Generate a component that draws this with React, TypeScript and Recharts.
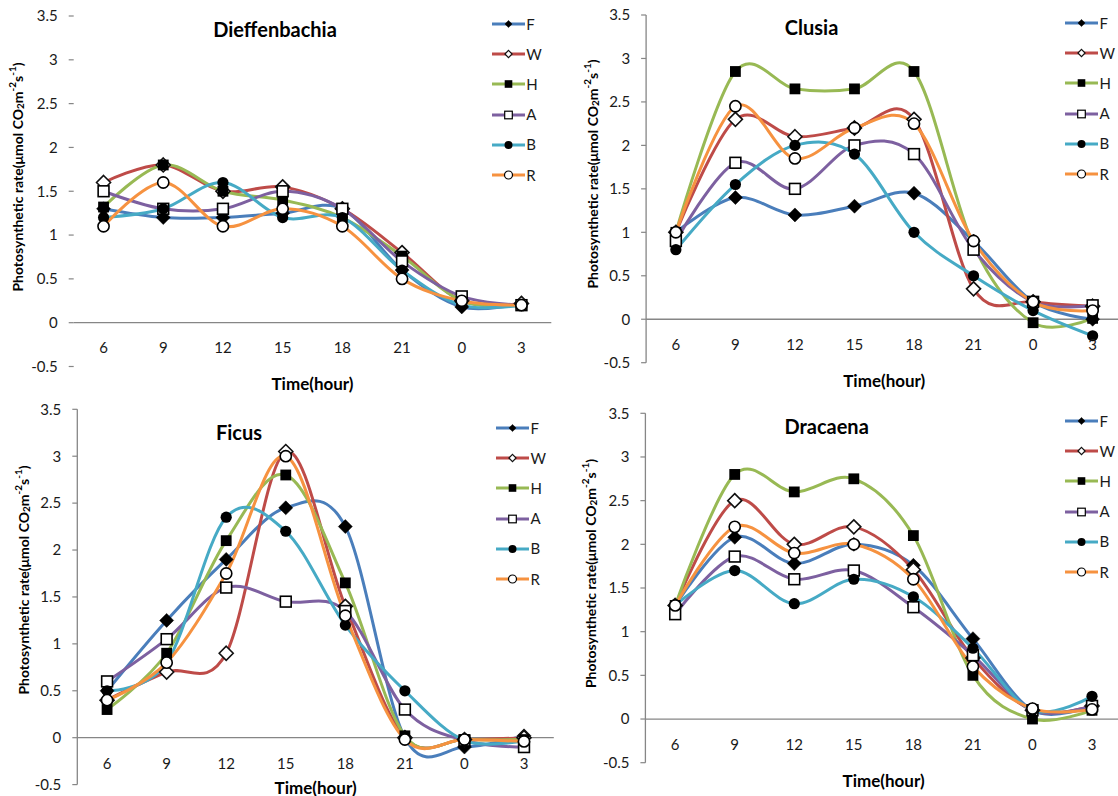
import React from 'react';
import { LineChart, Line, XAxis, YAxis, ReferenceLine, Legend, Label } from 'recharts';

// ---------- data ----------
const hours = ['6', '9', '12', '15', '18', '21', '0', '3'];
const yTicks = [-0.5, 0, 0.5, 1, 1.5, 2, 2.5, 3, 3.5];
const seriesNames = ['F', 'W', 'H', 'A', 'B', 'R'];
const seriesColors = ['#4A7EBB', '#BE4B48', '#98B954', '#7D60A0', '#46AAC5', '#F69240'];
const seriesMarkers = ['diamond', 'diamondOpen', 'square', 'squareOpen', 'circle', 'circleOpen'];

const dieffenbachiaF = [1.3, 1.2, 1.2, 1.25, 1.3, 0.6, 0.18, 0.22];
const dieffenbachiaW = [1.6, 1.8, 1.5, 1.55, 1.3, 0.8, 0.25, 0.22];
const dieffenbachiaH = [1.32, 1.8, 1.5, 1.4, 1.2, 0.76, 0.25, 0.2];
const dieffenbachiaA = [1.5, 1.3, 1.3, 1.5, 1.3, 0.7, 0.3, 0.2];
const dieffenbachiaB = [1.2, 1.3, 1.6, 1.2, 1.2, 0.6, 0.2, 0.2];
const dieffenbachiaR = [1.1, 1.6, 1.1, 1.3, 1.1, 0.5, 0.25, 0.2];

const clusiaF = [1.0, 1.4, 1.2, 1.3, 1.45, 0.9, 0.2, 0.0];
const clusiaW = [1.0, 2.3, 2.1, 2.2, 2.3, 0.35, 0.2, 0.15];
const clusiaH = [1.0, 2.85, 2.65, 2.65, 2.85, 0.85, -0.04, 0.01];
const clusiaA = [0.9, 1.8, 1.5, 2.0, 1.9, 0.8, 0.2, 0.16];
const clusiaB = [0.8, 1.55, 2.0, 1.9, 1.0, 0.5, 0.1, -0.19];
const clusiaR = [1.0, 2.45, 1.85, 2.2, 2.25, 0.9, 0.2, 0.1];

const ficusF = [0.5, 1.25, 1.9, 2.45, 2.25, 0.0, -0.1, 0.02];
const ficusW = [0.4, 0.7, 0.9, 3.05, 1.4, 0.0, -0.02, 0.0];
const ficusH = [0.3, 0.9, 2.1, 2.8, 1.65, 0.02, -0.02, -0.02];
const ficusA = [0.6, 1.05, 1.6, 1.45, 1.35, 0.3, -0.03, -0.1];
const ficusB = [0.5, 0.8, 2.35, 2.2, 1.2, 0.5, -0.03, -0.03];
const ficusR = [0.4, 0.8, 1.75, 3.0, 1.3, -0.02, -0.02, -0.04];

const dracaenaF = [1.3, 2.08, 1.78, 2.0, 1.76, 0.92, 0.1, 0.15];
const dracaenaW = [1.3, 2.5, 2.0, 2.2, 1.71, 0.7, 0.1, 0.15];
const dracaenaH = [1.3, 2.8, 2.6, 2.75, 2.1, 0.5, 0.0, 0.1];
const dracaenaA = [1.2, 1.86, 1.6, 1.7, 1.28, 0.73, 0.1, 0.15];
const dracaenaB = [1.3, 1.7, 1.32, 1.6, 1.4, 0.81, 0.1, 0.26];
const dracaenaR = [1.3, 2.2, 1.9, 2.0, 1.6, 0.6, 0.12, 0.11];

const FONT = 'Lato, "Open Sans", "DejaVu Sans", sans-serif';
const AXIS_GRAY = '#868686';

// ---------- Excel-like smoothed curve (Catmull-Rom bezier) ----------
class SmoothCurve {
  _context: any; _k: number; _line: number; _point: number;
  _x0: number; _x1: number; _x2: number; _y0: number; _y1: number; _y2: number;
  constructor(context: any) { this._context = context; this._k = 1 / 6; }
  areaStart() { this._line = 0; }
  areaEnd() { this._line = NaN; }
  lineStart() {
    this._x0 = this._x1 = this._x2 = NaN;
    this._y0 = this._y1 = this._y2 = NaN;
    this._point = 0;
  }
  lineEnd() {
    switch (this._point) {
      case 2: this._context.lineTo(this._x2, this._y2); break;
      case 3: this._bez(this._x1, this._y1); break;
    }
    if (this._line || (this._line !== 0 && this._point === 1)) this._context.closePath();
    this._line = 1 - this._line;
  }
  _bez(x: number, y: number) {
    this._context.bezierCurveTo(
      this._x1 + this._k * (this._x2 - this._x0),
      this._y1 + this._k * (this._y2 - this._y0),
      this._x2 + this._k * (this._x1 - x),
      this._y2 + this._k * (this._y1 - y),
      this._x2,
      this._y2
    );
  }
  point(x: number, y: number) {
    x = +x; y = +y;
    switch (this._point) {
      case 0: this._point = 1; this._line ? this._context.lineTo(x, y) : this._context.moveTo(x, y); break;
      case 1: this._point = 2; this._x1 = x; this._y1 = y; break;
      case 2: this._point = 3; this._bez(x, y); break;
      default: this._bez(x, y); break;
    }
    this._x0 = this._x1; this._x1 = this._x2; this._x2 = x;
    this._y0 = this._y1; this._y1 = this._y2; this._y2 = y;
  }
}
const smoothCurve: any = (context: any) => new SmoothCurve(context);

// ---------- markers ----------
function markerShape(shape: string, cx: number, cy: number, big: boolean, key?: string) {
  const d = big ? 7 : 3.6;
  const q = big ? 5.4 : 3.8;
  const r = big ? 5.6 : 4;
  const sw = big ? 1.6 : 1.2;
  switch (shape) {
    case 'diamond':
      return <polygon key={key} points={`${cx},${cy - d} ${cx + d},${cy} ${cx},${cy + d} ${cx - d},${cy}`} fill="#000" stroke="#000" strokeWidth={0.5} />;
    case 'diamondOpen':
      return <polygon key={key} points={`${cx},${cy - d} ${cx + d},${cy} ${cx},${cy + d} ${cx - d},${cy}`} fill="#fff" stroke="#111" strokeWidth={sw} />;
    case 'square':
      return <rect key={key} x={cx - q} y={cy - q} width={2 * q} height={2 * q} fill="#000" />;
    case 'squareOpen':
      return <rect key={key} x={cx - q} y={cy - q} width={2 * q} height={2 * q} fill="#fff" stroke="#000" strokeWidth={sw} />;
    case 'circle':
      return <circle key={key} cx={cx} cy={cy} r={r} fill="#000" />;
    default:
      return <circle key={key} cx={cx} cy={cy} r={r} fill="#fff" stroke="#000" strokeWidth={sw} />;
  }
}

const renderDot = (k: number) => (props: any) => {
  const { cx, cy, index } = props;
  if (cx == null || cy == null) return <g key={`d-${k}-${index}`} />;
  return <g key={`d-${k}-${index}`}>{markerShape(seriesMarkers[k], cx, cy, true)}</g>;
};

function LegendBox() {
  return (
    <div style={{ fontFamily: FONT, fontSize: 15, color: '#1a1a1a' }}>
      {seriesNames.map((n, k) => (
        <div key={n} style={{ height: 30.2, display: 'flex', alignItems: 'center' }}>
          <svg width={33} height={12} style={{ display: 'block' }}>
            <line x1={0} y1={6} x2={33} y2={6} stroke={seriesColors[k]} strokeWidth={3} />
            {markerShape(seriesMarkers[k], 16.5, 6, false)}
          </svg>
          <span style={{ marginLeft: 1.5, lineHeight: '15px' }}>{n}</span>
        </div>
      ))}
    </div>
  );
}

// ---------- panels ----------
const panels = [
  {
    title: 'Dieffenbachia',
    series: [dieffenbachiaF, dieffenbachiaW, dieffenbachiaH, dieffenbachiaA, dieffenbachiaB, dieffenbachiaR],
    left: 0, top: 0, width: 558, height: 396,
    plotLeft: 73.7, plotRight: 551.3, plotTop: 16, plotBottom: 366.5,
    yAxisLine: false, xTickShift: 19.8, xLabelDy: 16.5,
    titleX: 275, titleY: 29, yLabelX: 17, yLabelY: 177, legendX: 491.7, legendY: 9,
  },
  {
    title: 'Clusia',
    series: [clusiaF, clusiaW, clusiaH, clusiaA, clusiaB, clusiaR],
    left: 558, top: 0, width: 570, height: 396,
    plotLeft: 88.1, plotRight: 564.4, plotTop: 15, plotBottom: 362.7,
    yAxisLine: true, xTickShift: 18.7, xLabelDy: 17.3,
    titleX: 253.6, titleY: 27, yLabelX: 34, yLabelY: 174, legendX: 507, legendY: 8,
  },
  {
    title: 'Ficus',
    series: [ficusF, ficusW, ficusH, ficusA, ficusB, ficusR],
    left: 0, top: 396, width: 558, height: 400,
    plotLeft: 77.3, plotRight: 553.8, plotTop: 13.3, plotBottom: 388.6,
    yAxisLine: true, xTickShift: 21.3, xLabelDy: 2.4,
    titleX: 239, titleY: 36, yLabelX: 23, yLabelY: 184, legendX: 496, legendY: 17,
  },
  {
    title: 'Dracaena',
    series: [dracaenaF, dracaenaW, dracaenaH, dracaenaA, dracaenaB, dracaenaR],
    left: 558, top: 396, width: 570, height: 400,
    plotLeft: 87.4, plotRight: 563.8, plotTop: 17.3, plotBottom: 366.7,
    yAxisLine: true, xTickShift: 19, xLabelDy: 17.3,
    titleX: 268.6, titleY: 30, yLabelX: 32, yLabelY: 177.5, legendX: 507, legendY: 10,
  },
];

function YLabelText({ x, y }: { x: number; y: number }) {
  return (
    <text
      x={x}
      y={y}
      transform={`rotate(-90, ${x}, ${y})`}
      textAnchor="middle"
      dominantBaseline="central"
      fontFamily={FONT}
      fontWeight="bold"
      fontSize={14}
      fill="#000"
    >
      Photosynthetic rate(μmol CO
      <tspan dy={3} fontSize={10}>2</tspan>
      <tspan dy={-3}>m</tspan>
      <tspan dy={-5} fontSize={10}>-2</tspan>
      <tspan dy={5}>s</tspan>
      <tspan dy={-5} fontSize={10}>-1</tspan>
      <tspan dy={5}>)</tspan>
    </text>
  );
}

function Panel({ p }: { p: any }) {
  const data = hours.map((h, i) => {
    const row: any = { hour: h };
    seriesNames.forEach((n, k) => {
      row[n] = p.series[k][i];
    });
    return row;
  });
  const plotW = p.plotRight - p.plotLeft;
  const pad = plotW / 16;
  return (
    <div style={{ position: 'absolute', left: p.left, top: p.top, width: p.width, height: p.height }}>
      <LineChart
        width={p.width}
        height={p.height}
        data={data}
        margin={{ top: p.plotTop, right: p.width - p.plotRight, bottom: 0, left: 0 }}
      >
        <XAxis
          dataKey="hour"
          padding={{ left: pad, right: pad }}
          interval={0}
          axisLine={false}
          tickLine={false}
          tickSize={0}
          tickMargin={0}
          height={p.height - p.plotBottom}
          tick={(tp: any) => (
            <text
              x={tp.x}
              y={tp.y - p.xTickShift}
              textAnchor="middle"
              dominantBaseline="central"
              fontFamily={FONT}
              fontSize={15}
              fill="#1a1a1a"
            >
              {tp.payload.value}
            </text>
          )}
        >
          <Label
            content={(lp: any) => {
              const vb = lp.viewBox || {};
              return (
                <text
                  x={vb.x + vb.width / 2}
                  y={vb.y + p.xLabelDy}
                  textAnchor="middle"
                  dominantBaseline="central"
                  fontFamily={FONT}
                  fontWeight="bold"
                  fontSize={17}
                  fill="#000"
                >
                  Time(hour)
                </text>
              );
            }}
          />
        </XAxis>
        <YAxis
          type="number"
          domain={[-0.5, 3.5]}
          ticks={yTicks}
          interval={0}
          width={p.plotLeft}
          axisLine={p.yAxisLine ? { stroke: AXIS_GRAY, strokeWidth: 1.3 } : false}
          tickLine={{ stroke: AXIS_GRAY, strokeWidth: 1.2 }}
          tickSize={5}
          tickMargin={11}
          tick={{ fontSize: 15, fill: '#1a1a1a', fontFamily: FONT }}
        >
          <Label content={() => <YLabelText x={p.yLabelX} y={p.yLabelY} />} />
        </YAxis>
        <ReferenceLine y={0} stroke={AXIS_GRAY} strokeWidth={1.3} />
        {seriesNames.map((n, k) => (
          <Line
            key={n}
            dataKey={n}
            type={smoothCurve}
            stroke={seriesColors[k]}
            strokeWidth={3}
            dot={renderDot(k)}
            activeDot={false}
            isAnimationActive={false}
          />
        ))}
        <Legend
          layout="vertical"
          align="center"
          verticalAlign="middle"
          wrapperStyle={{ left: p.legendX, top: p.legendY, width: 'auto' }}
          content={() => <LegendBox />}
        />
      </LineChart>
      <div
        style={{
          position: 'absolute',
          left: p.titleX,
          top: p.titleY,
          transform: 'translate(-50%, -50%)',
          fontFamily: FONT,
          fontWeight: 'bold',
          fontSize: 20,
          lineHeight: 1,
          whiteSpace: 'nowrap',
          color: '#000',
          pointerEvents: 'none',
        }}
      >
        {p.title}
      </div>
    </div>
  );
}

export default function App() {
  return (
    <div
      style={{
        position: 'absolute',
        left: 0,
        top: 0,
        width: 1118,
        height: 796,
        overflow: 'hidden',
        background: '#fff',
      }}
    >
      {panels.map((p) => (
        <Panel key={p.title} p={p} />
      ))}
    </div>
  );
}
